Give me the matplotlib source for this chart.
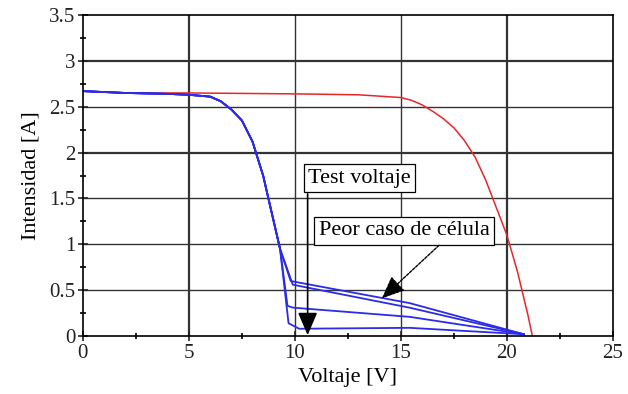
import matplotlib
matplotlib.use("Agg")
import matplotlib.pyplot as plt

# curva de referencia (rojo)
v_red = [0, 2, 5, 10, 13, 15, 15.5, 16, 16.5, 17, 17.5, 18, 18.5, 19, 19.5,
         20, 20.5, 21, 21.2]
i_red = [2.67, 2.65, 2.65, 2.64, 2.63, 2.60, 2.57, 2.52, 2.45, 2.37, 2.27,
         2.13, 1.95, 1.70, 1.40, 1.10, 0.70, 0.22, 0.0]

# tramo comun de las curvas azules
v_drop = [0, 2, 4, 5, 6, 6.5, 7, 7.5, 8, 8.5, 9, 9.3]
i_drop = [2.67, 2.65, 2.64, 2.63, 2.61, 2.56, 2.47, 2.35, 2.12, 1.75, 1.25, 0.95]

# cola de cada curva con celula sombreada
v_a = [9.8, 15.4, 20.8]
i_a = [0.60, 0.36, 0.02]
v_b = [9.9, 15.4, 20.8]
i_b = [0.56, 0.31, 0.02]
v_c = [9.65, 9.9, 15.4, 20.8]
i_c = [0.33, 0.31, 0.21, 0.02]
v_d = [9.7, 10.2, 15.4, 20.8]
i_d = [0.14, 0.08, 0.09, 0.02]

x_ticks = [0, 5, 10, 15, 20, 25]
y_ticks = [0, 0.5, 1, 1.5, 2, 2.5, 3, 3.5]
y_labels = ['0', '0.5', '1', '1.5', '2', '2.5', '3', '3.5']

plt.rcParams['font.family'] = ['Liberation Serif', 'DejaVu Serif']

fig, ax = plt.subplots(figsize=(6.28, 3.94), dpi=100)
fig.subplots_adjust(left=0.132, right=0.976, bottom=0.147, top=0.962)

# rejilla
for x in x_ticks[1:-1]:
    lw = 1.6 if x in (5, 20) else 1.0
    ax.axvline(x, color='#333333', lw=lw, zorder=0)
for y in y_ticks[1:-1]:
    lw = 1.6 if y in (2, 3) else 1.0
    ax.axhline(y, color='#333333', lw=lw, zorder=0)

ax.plot(v_red, i_red, color='#e8262a', lw=1.1)
blue = '#2b2be8'
for vt, it in [(v_a, i_a), (v_b, i_b), (v_c, i_c), (v_d, i_d)]:
    ax.plot(v_drop + vt, i_drop + it, color=blue, lw=1.3)

ax.set_xlim(0, 25)
ax.set_ylim(0, 3.5)
ax.set_xticks(x_ticks)
ax.set_xticks([2.5, 7.5, 12.5, 17.5, 22.5], minor=True)
ax.set_yticks(y_ticks)
ax.set_yticklabels(y_labels)
ax.set_yticks([0.25 + 0.5 * k for k in range(7)], minor=True)
ax.tick_params(which='major', direction='inout', length=7, width=1.2,
               labelsize=15, colors='#222222', pad=2)
ax.tick_params(which='minor', direction='inout', length=5, width=1.2)
for s in ax.spines.values():
    s.set_linewidth(1.2)

ax.set_xlabel('Voltaje [V]', fontsize=16, labelpad=4)
ax.set_ylabel('Intensidad [A]', fontsize=16, labelpad=6)

box = dict(boxstyle='square,pad=0.2', fc='white', ec='black', lw=0.9)
ax.text(13.05, 1.72, 'Test voltaje', fontsize=16, ha='center', va='center',
        bbox=box)
ax.annotate('', xy=(10.6, 0.01), xytext=(10.6, 1.55),
            arrowprops=dict(arrowstyle='-|>,head_length=0.7,head_width=0.3',
                            mutation_scale=20, color='black', lw=1.2,
                            shrinkA=0, shrinkB=0))

ax.text(15.15, 1.15, 'Peor caso de célula', fontsize=16, ha='center',
        va='center', bbox=box)
ax.annotate('', xy=(14.1, 0.41), xytext=(16.8, 0.99),
            arrowprops=dict(arrowstyle='-|>,head_length=0.7,head_width=0.3',
                            mutation_scale=20, color='black', lw=1.0,
                            ls=(0, (2, 1)), shrinkA=0, shrinkB=0))

fig.savefig('out.png', dpi=100)
